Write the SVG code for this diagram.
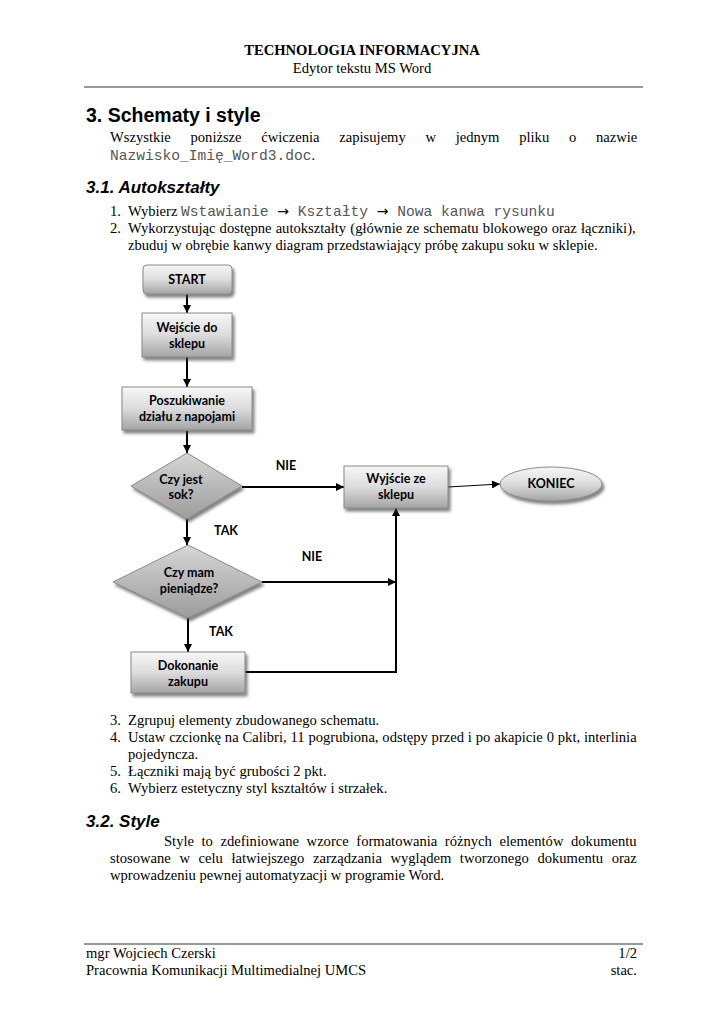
<svg xmlns="http://www.w3.org/2000/svg" width="724" height="1024" viewBox="0 0 724 1024">
<style>
.tnr{font-family:"Liberation Serif","Times New Roman",serif;font-size:14.6px;fill:#000}
.tnrb{font-family:"Liberation Serif","Times New Roman",serif;font-size:14.6px;font-weight:bold;fill:#000}
.mono{font-family:"Liberation Mono","Courier New",monospace;font-size:14.6px;fill:#555}
.arr{font-family:"DejaVu Sans",sans-serif;font-size:14px;fill:#000}
.h1{font-family:"Liberation Sans",Arial,sans-serif;font-size:19.5px;font-weight:bold}
.h2{font-family:"Liberation Sans",Arial,sans-serif;font-size:17px;font-weight:bold;font-style:italic}
.lbl{font-family:Lato,"Open Sans",sans-serif;font-size:12.5px;font-weight:bold;fill:#000;text-anchor:middle}
.box{stroke:#8a8a8a;stroke-width:1;fill:url(#gBox);filter:url(#sh)}
.dia{stroke:#8a8a8a;stroke-width:1;fill:url(#gDia);filter:url(#sh)}
.ell{stroke:#8a8a8a;stroke-width:1;fill:url(#gBox);filter:url(#sh)}
.con{stroke:#000;stroke-width:2;fill:none}
.rule{stroke:#777;stroke-width:1.3}
</style>
<defs>
<linearGradient id="gBox" x1="0" y1="0" x2="0" y2="1">
<stop offset="0" stop-color="#f7f7f7"/>
<stop offset="0.5" stop-color="#dcdcdc"/>
<stop offset="1" stop-color="#a4a4a4"/>
</linearGradient>
<linearGradient id="gDia" x1="0" y1="0" x2="0" y2="1">
<stop offset="0" stop-color="#d6d6d6"/>
<stop offset="1" stop-color="#9c9c9c"/>
</linearGradient>
<filter id="sh" x="-20%" y="-20%" width="140%" height="150%">
<feDropShadow dx="2" dy="3" stdDeviation="1.5" flood-color="#404040" flood-opacity="0.65"/>
</filter>
<marker id="ah" viewBox="0 0 10 10" refX="10" refY="5" markerWidth="9" markerHeight="8" markerUnits="userSpaceOnUse" orient="auto">
<path d="M0,0 L10,5 L0,10 z" fill="#000"/>
</marker>
</defs>

<g id="header">
<text class="tnrb" x="362" y="55" text-anchor="middle">TECHNOLOGIA INFORMACYJNA</text>
<text class="tnr" x="362" y="73" text-anchor="middle">Edytor tekstu MS Word</text>
<line class="rule" x1="84" y1="87" x2="643" y2="87"/>
</g>

<g id="intro">
<text class="h1" x="86" y="122">3. Schematy i style</text>
<text class="tnr" y="142"><tspan x="110">Wszystkie</tspan><tspan x="190.5">poniższe</tspan><tspan x="261.2">ćwiczenia</tspan><tspan x="339.3">zapisujemy</tspan><tspan x="425.5">w</tspan><tspan x="455.7">jednym</tspan><tspan x="519.2">pliku</tspan><tspan x="568.9">o</tspan><tspan x="595.9">nazwie</tspan></text>
<text x="110" y="160"><tspan class="mono">Nazwisko_Imię_Word3.doc</tspan><tspan class="tnr">.</tspan></text>
<text class="h2" x="86" y="193">3.1. Autokształty</text>
<text class="tnr" x="110" y="216">1.</text>
<text x="128" y="216"><tspan class="tnr">Wybierz </tspan><tspan class="mono">Wstawianie </tspan><tspan class="arr">→</tspan><tspan class="mono"> Kształty </tspan><tspan class="arr">→</tspan><tspan class="mono"> Nowa kanwa rysunku</tspan></text>
<text class="tnr" x="110" y="233">2.</text>
<text class="tnr" x="128" y="233" word-spacing="0.5">Wykorzystując dostępne autokształty (głównie ze schematu blokowego oraz łączniki),</text>
<text class="tnr" x="128" y="250">zbuduj w obrębie kanwy diagram przedstawiający próbę zakupu soku w sklepie.</text>
</g>

<g id="connectors">
<line class="con" x1="187" y1="294" x2="187" y2="313" marker-end="url(#ah)"/>
<line class="con" x1="187" y1="357" x2="187" y2="387" marker-end="url(#ah)"/>
<line class="con" x1="187" y1="431" x2="187" y2="453" marker-end="url(#ah)"/>
<line class="con" x1="187" y1="519" x2="187" y2="545" marker-end="url(#ah)"/>
<line class="con" x1="242" y1="487" x2="344" y2="487" marker-end="url(#ah)"/>
<line stroke="#000" stroke-width="1" x1="448" y1="487" x2="500" y2="484" marker-end="url(#ah)"/>
<line class="con" x1="262" y1="582" x2="396" y2="582" marker-end="url(#ah)"/>
<line class="con" x1="188" y1="618" x2="188" y2="652" marker-end="url(#ah)"/>
<polyline class="con" points="245,672 396,672 396,508" marker-end="url(#ah)"/>
</g>

<g id="labels">
<text class="lbl" x="286" y="470">NIE</text>
<text class="lbl" x="226" y="535">TAK</text>
<text class="lbl" x="312" y="561">NIE</text>
<text class="lbl" x="221" y="636">TAK</text>
</g>

<g id="start">
<rect class="box" x="143" y="265" width="89" height="29" rx="4"/>
<text class="lbl" x="187" y="284">START</text>
</g>
<g id="wejscie">
<rect class="box" x="142" y="313" width="90" height="44"/>
<text class="lbl" x="187" y="332">Wejście do</text>
<text class="lbl" x="187" y="348">sklepu</text>
</g>
<g id="poszukiwanie">
<rect class="box" x="122" y="387" width="130" height="43"/>
<text class="lbl" x="187" y="405">Poszukiwanie</text>
<text class="lbl" x="187" y="421">działu z napojami</text>
</g>
<g id="czy-jest-sok">
<polygon class="dia" points="187,453 242,486 187,519 131,486"/>
<text class="lbl" x="181" y="484">Czy jest</text>
<text class="lbl" x="181" y="499">sok?</text>
</g>
<g id="wyjscie">
<rect class="box" x="344" y="466" width="104" height="42"/>
<text class="lbl" x="396" y="483">Wyjście ze</text>
<text class="lbl" x="396" y="499">sklepu</text>
</g>
<g id="koniec">
<ellipse class="ell" cx="551" cy="484" rx="51" ry="17"/>
<text class="lbl" x="551" y="488">KONIEC</text>
</g>
<g id="czy-mam-pieniadze">
<polygon class="dia" points="188,545 262,582 188,618 113,582"/>
<text class="lbl" x="189" y="577">Czy mam</text>
<text class="lbl" x="189" y="593">pieniądze?</text>
</g>
<g id="dokonanie">
<rect class="box" x="131" y="652" width="114" height="41"/>
<text class="lbl" x="188" y="670">Dokonanie</text>
<text class="lbl" x="188" y="686">zakupu</text>
</g>

<g id="steps">
<text class="tnr" x="110" y="725">3.</text>
<text class="tnr" x="128" y="725">Zgrupuj elementy zbudowanego schematu.</text>
<text class="tnr" x="110" y="742">4.</text>
<text class="tnr" x="128" y="742" word-spacing="0.2">Ustaw czcionkę na Calibri, 11 pogrubiona, odstępy przed i po akapicie 0 pkt, interlinia</text>
<text class="tnr" x="128" y="759">pojedyncza.</text>
<text class="tnr" x="110" y="776">5.</text>
<text class="tnr" x="128" y="776">Łączniki mają być grubości 2 pkt.</text>
<text class="tnr" x="110" y="793">6.</text>
<text class="tnr" x="128" y="793">Wybierz estetyczny styl kształtów i strzałek.</text>
</g>

<g id="style-section">
<text class="h2" x="86" y="827">3.2. Style</text>
<text class="tnr" x="164" y="846" word-spacing="3.9">Style to zdefiniowane wzorce formatowania różnych elementów dokumentu</text>
<text class="tnr" x="110" y="863" word-spacing="4.96">stosowane w celu łatwiejszego zarządzania wyglądem tworzonego dokumentu oraz</text>
<text class="tnr" x="110" y="880">wprowadzeniu pewnej automatyzacji w programie Word.</text>
</g>

<g id="footer">
<line class="rule" x1="84" y1="944" x2="643" y2="944"/>
<text class="tnr" x="86" y="958">mgr Wojciech Czerski</text>
<text class="tnr" x="637" y="958" text-anchor="end">1/2</text>
<text class="tnr" x="86" y="975">Pracownia Komunikacji Multimedialnej UMCS</text>
<text class="tnr" x="637" y="975" text-anchor="end">stac.</text>
</g>
</svg>
